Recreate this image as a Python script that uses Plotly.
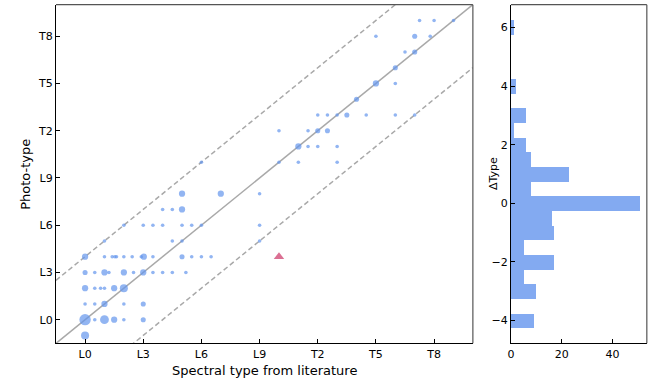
import numpy as np
import plotly.graph_objects as go

# ---- data ----
tick_vals = [0, 3, 6, 9, 12, 15, 18]
tick_text = ["L0", "L3", "L6", "L9", "T2", "T5", "T8"]

# scatter: literature type (x), photo-type (y), number of objects (n)
lit_type = [0,
            0, 0.5, 1, 1.5, 2, 3,
            0, 0.5, 1, 2, 3,
            0, 0.5, 0.8, 1, 1.5, 2,
            0, 0.5, 1, 1.23, 2, 2.5, 3, 3.5, 4, 4.5, 5.2,
            0, 1, 1.4, 1.54, 1.62, 2, 2.43, 2.9, 3.03, 3.5, 5, 5.5, 6, 6.5,
            1, 4.5, 5,
            2, 3, 3.5, 4, 5, 5.5, 6,
            4, 4.5, 5,
            5, 7,
            6,
            9, 9, 9,
            10, 11, 13,
            11, 11.5, 12, 13,
            10, 11.5, 12, 12.5,
            12, 12.5, 13, 13.5, 14.5, 16, 17,
            14,
            15, 16,
            16,
            16.5, 17,
            15, 17, 17.8,
            17.25, 18, 19]
photo_type = [-1,
              0, 0, 0, 0, 0, 0,
              1, 1, 1, 1, 1,
              2, 2, 2, 2, 2, 2,
              3, 3, 3, 3, 3, 3, 3, 3, 3, 3, 3,
              4, 4, 4, 4, 4, 4, 4, 4, 4, 4, 4, 4, 4, 4,
              5, 5, 5,
              6, 6, 6, 6, 6, 6, 6,
              7, 7, 7,
              8, 8,
              10,
              8, 6, 5,
              10, 10, 10,
              11, 11, 11, 11,
              12, 12, 12, 12,
              13, 13, 13, 13, 13, 13, 13,
              14,
              15, 15,
              16,
              17, 17,
              18, 18, 18,
              19, 19, 19]
n_obj = [5,
         10, 1, 6, 3, 1, 2,
         1, 1, 3, 1, 2,
         3, 1, 1, 1, 3, 5,
         2, 1, 3, 1, 3, 1, 3, 1, 1, 1, 1,
         3, 1, 1, 1, 1, 1, 1, 1, 3, 1, 2, 1, 1, 1,
         1, 1, 1,
         1, 1, 1, 1, 1, 1, 1,
         1, 1, 3,
         3, 3,
         1,
         1, 1, 1,
         1, 1, 1,
         3, 1, 1, 1,
         1, 1, 2, 2,
         1, 1, 1, 2, 1, 1, 1,
         2,
         3, 1,
         2,
         1, 2,
         1, 2, 1,
         1, 1, 1]

outlier_x = [10]
outlier_y = [4]

# histogram of delta type
dtype_centers = [-4, -3, -2.5, -2, -1.5, -1, -0.5, 0, 0.5, 1, 1.5, 2, 2.5, 3, 4, 6]
dtype_counts = [9, 10, 5, 17, 5, 17, 16, 51, 8, 23, 8, 6, 1, 6, 2, 1]

# ---- figure ----
W, H = 668, 382
def px_x(a, b):
    return [a / W, b / W]
def px_y(top, bottom):
    return [(H - bottom) / H, (H - top) / H]

blue = "#6495ED"
gray = "#A9A9A9"
font = "DejaVu Sans"

fig = go.Figure()

lo, hi = -1.5, 20
fig.add_trace(go.Scatter(x=[lo, hi], y=[lo, hi], mode="lines",
                         line=dict(color=gray, width=1.5), showlegend=False,
                         hoverinfo="skip", xaxis="x", yaxis="y"))
for off in (4, -4):
    fig.add_trace(go.Scatter(x=[lo, hi], y=[lo + off, hi + off], mode="lines",
                             line=dict(color=gray, width=1.5, dash="5px,3px"),
                             showlegend=False, hoverinfo="skip", xaxis="x", yaxis="y"))

sizes = 3.6 * np.sqrt(np.array(n_obj, dtype=float))
fig.add_trace(go.Scatter(x=lit_type, y=photo_type, mode="markers",
                         marker=dict(color=blue, size=sizes, line=dict(width=0)),
                         showlegend=False, xaxis="x", yaxis="y"))
fig.add_trace(go.Scatter(x=outlier_x, y=outlier_y, mode="markers",
                         marker=dict(color="#DB7093", size=9, symbol="triangle-up",
                                     line=dict(width=0)),
                         showlegend=False, xaxis="x", yaxis="y"))

fig.add_trace(go.Bar(x=dtype_counts, y=dtype_centers, orientation="h", width=0.5,
                     marker=dict(color="rgba(100,149,237,0.8)", line=dict(width=0)),
                     showlegend=False, xaxis="x2", yaxis="y2"))

axis_common = dict(showline=True, linecolor="black", linewidth=1.2, mirror=False,
                   ticks="inside", ticklen=4, tickwidth=1, tickcolor="black",
                   showgrid=False, zeroline=False,
                   tickfont=dict(family=font, size=11, color="black"))

fig.update_layout(
    width=W, height=H,
    margin=dict(l=0, r=0, t=0, b=0),
    paper_bgcolor="white", plot_bgcolor="white",
    font=dict(family=font, color="black"),
    bargap=0,
    xaxis=dict(domain=px_x(52.3, 471.7), range=[lo, hi], tickmode="array",
               tickvals=tick_vals, ticktext=tick_text, anchor="y", **axis_common),
    yaxis=dict(domain=px_y(4.7, 343.3), range=[lo, hi], tickmode="array",
               tickvals=tick_vals, ticktext=tick_text, anchor="x", **axis_common),
    xaxis2=dict(domain=px_x(510, 646.7), range=[0, 53.55], tickmode="array",
                tickvals=[0, 20, 40], anchor="y2", **axis_common),
    yaxis2=dict(domain=px_y(4.7, 343.3), range=[-4.775, 6.775], tickmode="array",
                tickvals=[-4, -2, 0, 2, 4, 6], anchor="x2", **axis_common),
)

# top/right frame lines in gray
for xr, yr in (("x domain", "y domain"), ("x2 domain", "y2 domain")):
    fig.add_shape(type="line", xref=xr, yref=yr, x0=0, x1=1, y0=1, y1=1,
                  line=dict(color="#555555", width=1.2))
    fig.add_shape(type="line", xref=xr, yref=yr, x0=1, x1=1, y0=0, y1=1,
                  line=dict(color="#555555", width=1.2))

fig.add_annotation(text="Spectral type from literature", xref="paper", yref="paper",
                   x=262 / W, y=(H - 370) / H, showarrow=False,
                   font=dict(family=font, size=13, color="black"),
                   xanchor="center", yanchor="middle")
fig.add_annotation(text="Photo-type", xref="paper", yref="paper",
                   x=21 / W, y=(H - 174) / H, showarrow=False, textangle=-90,
                   font=dict(family=font, size=13, color="black"),
                   xanchor="center", yanchor="middle")
fig.add_annotation(text="ΔType", xref="paper", yref="paper",
                   x=492 / W, y=(H - 174) / H, showarrow=False, textangle=-90,
                   font=dict(family=font, size=11, color="black"),
                   xanchor="center", yanchor="middle")

fig.write_html("out.html", config={"displayModeBar": False},
               post_script="document.body.style.margin='0px';document.body.style.padding='0px';")
